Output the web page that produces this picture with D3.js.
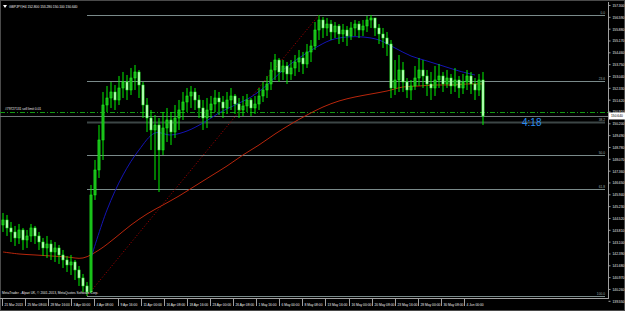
<!DOCTYPE html>
<html>
<head>
<meta charset="utf-8">
<script src="https://cdn.jsdelivr.net/npm/d3@7"></script>
<style>
  body { margin: 0; background: #000; overflow: hidden; }
  text { font-family: "Liberation Sans", Arial, sans-serif; }
</style>
</head>
<body>
<div id="chart"></div>
<script>
let w = 625;
let h = 311;

// GBPJPY H4 candles (bar 0 .. 120)
const firstOpen = 144.10;
const closes = [
  144.40, 143.92, 143.68, 143.32, 143.80, 143.20, 143.44, 143.92, 143.44, 143.08,
  142.72, 142.96, 142.48, 142.72, 142.30, 142.00, 141.70, 141.88, 141.40, 140.92,
  140.44, 140.08, 145.90, 147.40, 149.20, 151.30, 151.72, 152.08, 151.60, 152.32,
  152.68, 152.20, 152.92, 153.28, 152.50, 151.30, 150.52, 149.80, 150.10, 148.60,
  149.92, 150.40, 149.68, 150.52, 151.00, 151.48, 151.84, 152.08, 151.60, 151.12,
  150.52, 151.00, 151.36, 151.72, 151.48, 151.12, 151.60, 151.84, 151.36, 151.00,
  151.24, 151.60, 151.12, 151.36, 151.84, 152.20, 152.56, 153.40, 154.00, 153.28,
  153.64, 153.16, 153.52, 153.88, 154.12, 153.76, 154.48, 154.84, 155.80, 156.40,
  155.92, 156.16, 155.68, 156.04, 155.56, 155.80, 155.44, 155.92, 156.16, 155.80,
  156.04, 156.40, 156.52, 155.92, 155.56, 155.32, 154.96, 152.32, 152.80, 153.40,
  152.68, 152.20, 152.44, 152.92, 153.40, 153.04, 152.56, 152.32, 152.80, 153.04,
  152.56, 152.92, 152.44, 152.80, 152.32, 152.68, 153.04, 152.56, 152.20, 152.80,
  150.64
];
const highs = [
  144.82, 144.70, 144.28, 144.04, 144.16, 143.92, 143.80, 144.16, 144.04, 143.68,
  143.32, 143.44, 143.20, 143.08, 142.90, 142.60, 142.24, 142.30, 142.00, 141.64,
  141.16, 140.68, 146.50, 148.00, 150.10, 152.08, 152.44, 152.68, 152.50, 153.04,
  153.28, 153.10, 153.52, 153.70, 153.40, 152.68, 151.72, 151.00, 150.70, 150.52,
  150.88, 151.12, 150.88, 151.30, 151.60, 152.08, 152.32, 152.44, 152.32, 151.90,
  151.60, 151.72, 151.84, 152.20, 152.08, 151.84, 152.08, 152.32, 151.96, 151.72,
  151.84, 151.96, 151.72, 151.84, 152.32, 152.68, 153.04, 153.88, 154.36, 154.12,
  154.00, 153.88, 154.00, 154.30, 154.60, 154.48, 154.96, 155.20, 156.28, 156.70,
  156.58, 156.52, 156.40, 156.28, 156.16, 156.16, 156.04, 156.28, 156.40, 156.34,
  156.40, 156.64, 156.70, 156.52, 156.16, 155.92, 155.68, 155.20, 154.00, 154.30,
  153.88, 152.92, 152.80, 153.64, 154.12, 154.00, 153.40, 153.28, 153.64, 153.76,
  153.28, 153.40, 153.16, 153.52, 153.04, 153.16, 153.40, 153.28, 152.92, 153.16,
  153.28
];
const lows = [
  143.68, 143.44, 143.08, 142.84, 142.96, 142.60, 142.72, 143.08, 142.96, 142.60,
  142.24, 142.12, 142.00, 141.88, 141.76, 141.52, 141.28, 141.10, 140.80, 140.44,
  140.08, 139.84, 140.02, 145.60, 146.92, 148.00, 150.88, 151.12, 151.00, 151.30,
  151.72, 151.60, 151.90, 152.20, 151.72, 150.52, 149.68, 148.60, 146.80, 146.08,
  148.30, 149.08, 148.90, 149.32, 149.80, 150.40, 150.88, 151.12, 151.00, 150.52,
  149.80, 149.92, 150.52, 150.88, 150.70, 150.52, 150.76, 151.00, 150.76, 150.52,
  150.64, 150.88, 150.64, 150.76, 151.00, 151.48, 151.72, 152.20, 152.80, 152.68,
  152.80, 152.56, 152.80, 153.04, 153.28, 153.16, 153.52, 153.88, 154.60, 155.20,
  155.32, 155.44, 155.20, 155.32, 154.96, 155.08, 154.84, 155.20, 155.44, 155.32,
  155.44, 155.68, 155.92, 155.44, 154.96, 154.72, 154.24, 151.72, 151.90, 152.08,
  152.08, 151.72, 151.60, 152.20, 152.44, 152.32, 151.84, 151.60, 151.84, 152.32,
  152.08, 152.32, 151.96, 152.08, 151.72, 151.96, 152.20, 151.96, 151.60, 151.84,
  150.10
];

// moving averages, read every 4th bar
const blueStart = 22;
const blueMA = [142.12, 145.00, 147.10, 148.60, 149.62, 149.50, 149.74, 150.22, 150.82, 151.30,
  151.78, 152.50, 153.40, 154.12, 154.72, 155.20, 155.38, 155.38, 155.20, 154.72,
  154.24, 153.94, 153.64, 153.34, 153.10];
const redMA = [142.48, 142.36, 142.30, 142.24, 142.18, 142.12, 142.60, 143.32, 144.10, 144.76,
  145.30, 145.84, 146.44, 147.04, 147.64, 148.30, 148.90, 149.56, 150.16, 150.70,
  151.18, 151.54, 151.78, 151.96, 152.14, 152.38, 152.44, 152.50, 152.50, 152.56, 152.56];
const maStep = 4;

const priceLabels = ["157.300", "156.590", "155.880", "155.170", "154.460", "153.750", "153.040",
  "152.330", "151.620", "150.910", "150.200", "149.490", "148.780", "148.070", "147.360",
  "146.650", "145.940", "145.230", "144.520", "143.810", "143.100", "142.390", "141.680",
  "140.970", "140.260", "139.550"];
const timeLabels = ["21 Mar 2013", "25 Mar 08:00", "28 Mar 16:00", "3 Apr 00:00", "4 Apr 08:00",
  "9 Apr 16:00", "11 Apr 00:00", "16 Apr 08:00", "18 Apr 16:00", "23 Apr 00:00", "26 Apr 08:00",
  "1 May 16:00", "6 May 00:00", "8 May 08:00", "13 May 16:00", "16 May 00:00", "20 May 08:00",
  "23 May 16:00", "28 May 00:00", "30 May 08:00", "4 Jun 00:00"];
const fibLevels = [0, 23.6, 38.2, 50, 61.8, 100];
const fibLowBar = 21;
const fibHighBar = 79;
const sellLimit = 150.76;

let viz = d3.select("#chart").append("svg")
  .attr("width", w).attr("height", h)
  .style("background-color", "#000000");

let plotRight = 608;
let plotBottom = 298;
let fs = 4;        // tiny terminal font
let squeeze = 0.82;

// small text, squeezed sideways like the terminal font
function tiny(parent, px, py, str, fill, anchor) {
  return parent.append("text")
    .attr("transform", `translate(${px},${py}) scale(${squeeze},1)`)
    .attr("font-size", fs).attr("fill", fill)
    .attr("text-anchor", anchor || "start")
    .text(str);
}

let x = d3.scaleLinear().domain([0, closes.length - 1]).range([3, 483]);
let y = d3.scaleLinear().domain([157.3, 139.55]).range([5, 300.8]);

// window frame
viz.append("rect").attr("x", 0.5).attr("y", 0.5).attr("width", w - 1).attr("height", h - 1)
  .attr("fill", "none").attr("stroke", "#4a4a4a");

let plot = viz.append("g");

// bid line
let bid = closes[closes.length - 1];
plot.append("line").attr("x1", 0).attr("x2", plotRight)
  .attr("y1", Math.round(y(bid)) + 0.5).attr("y2", Math.round(y(bid)) + 0.5)
  .attr("stroke", "#6e7676").attr("stroke-width", 1);

// sell limit order line
plot.append("line").attr("x1", 0).attr("x2", plotRight)
  .attr("y1", Math.round(y(sellLimit)) - 1.5).attr("y2", Math.round(y(sellLimit)) - 1.5)
  .attr("stroke", "#129a12").attr("stroke-dasharray", "5,2,1,2");
tiny(plot, 5, y(sellLimit) - 4, "#79727131 sell limit 0.01", "#e8e8e8");

// fibonacci levels
let fLow = lows[fibLowBar], fHigh = highs[fibHighBar];
fibLevels.forEach(lv => {
  let py = Math.round(y(fHigh - (fHigh - fLow) * lv / 100)) + 0.5;
  plot.append("line").attr("x1", x(fibLowBar)).attr("x2", 605)
    .attr("y1", py).attr("y2", py)
    .attr("stroke", lv == 38.2 ? "#3c4646" : "#7a8a8a")
    .attr("stroke-width", lv == 38.2 ? 2 : 1);
  tiny(plot, 605, py - 1.5, lv.toFixed(1), "#9aaaaa", "end");
});
plot.append("line")
  .attr("x1", x(fibLowBar)).attr("y1", y(fLow))
  .attr("x2", x(fibHighBar)).attr("y2", y(fHigh))
  .attr("stroke", "#b00000").attr("stroke-dasharray", "1,2");

// moving averages
let lineMaker = d3.line().curve(d3.curveCatmullRom);
plot.append("path")
  .attr("d", lineMaker(redMA.map((v, i) => [x(i * maStep), y(v)])))
  .attr("fill", "none").attr("stroke", "#b8260c").attr("stroke-width", 1);
plot.append("path")
  .attr("d", lineMaker(blueMA.map((v, i) => [x(blueStart + i * maStep), y(v)])))
  .attr("fill", "none").attr("stroke", "#1414b4").attr("stroke-width", 1);

// candles
let bars = closes.map((c, i) => ({
  i: i,
  o: i == 0 ? firstOpen : closes[i - 1],
  c: c,
  hi: highs[i],
  lo: lows[i]
}));
let candleW = 2.2;
let candles = plot.selectAll(".candle").data(bars).enter().append("g").attr("class", "candle");
candles.append("line")
  .attr("x1", d => x(d.i)).attr("x2", d => x(d.i))
  .attr("y1", d => y(d.hi)).attr("y2", d => y(d.lo))
  .attr("stroke", "#00f000").attr("stroke-width", 1);
candles.append("rect")
  .attr("x", d => x(d.i) - candleW / 2)
  .attr("y", d => y(Math.max(d.o, d.c)))
  .attr("width", candleW)
  .attr("height", d => Math.max(1, Math.abs(y(d.o) - y(d.c))))
  .attr("fill", d => d.c >= d.o ? "#18b818" : "#c0ffc0")
  .attr("stroke", "#22ff22").attr("stroke-width", 0.5);

// countdown
viz.append("text").attr("x", 522).attr("y", 126)
  .attr("font-size", 10).attr("fill", "#2a8cf0")
  .text("4:18");

// header and copyright
viz.append("path").attr("d", "M3,5 L7,5 L5,8 Z").attr("fill", "#ffffff");
tiny(viz, 9, 8, "GBPJPY,H4  152.800 153.280 150.100 150.640", "#f0f0f0");
tiny(viz, 2, 294, "MetaTrader - Alpari UK, \u00a9 2001-2013, MetaQuotes Software Corp.", "#e8e8e8");

// price axis
let yAxis = d3.axisRight(y)
  .tickValues(priceLabels.map(Number))
  .tickFormat(d3.format(".3f"))
  .tickSize(2).tickPadding(0);
let ya = viz.append("g").attr("transform", `translate(${plotRight + 0.5},0)`).call(yAxis);
ya.select(".domain").attr("stroke", "#a0a0a0").attr("d", `M0,2V${plotBottom}`);
ya.selectAll(".tick line").attr("stroke", "#a0a0a0");
ya.selectAll(".tick text").attr("x", 0).attr("dy", null)
  .attr("transform", `translate(4,1.5) scale(${squeeze},1)`)
  .attr("font-size", fs).attr("fill", "#f0f0f0")
  .attr("font-family", "Liberation Sans, Arial, sans-serif");

// current price box
viz.append("rect").attr("x", plotRight + 1).attr("y", y(bid) - 3.5)
  .attr("width", 16).attr("height", 7).attr("fill", "#ffffff");
tiny(viz, plotRight + 3, y(bid) + 1.5, bid.toFixed(3), "#000000");

// time axis
viz.append("line").attr("x1", 0).attr("x2", plotRight + 1)
  .attr("y1", plotBottom + 0.5).attr("y2", plotBottom + 0.5)
  .attr("stroke", "#a0a0a0");
let tx = d3.scalePoint().domain(timeLabels).range([2, 464]);
let tticks = viz.selectAll(".tlabel").data(timeLabels).enter().append("g")
  .attr("class", "tlabel")
  .attr("transform", d => `translate(${Math.round(tx(d)) + 0.5},0)`);
tticks.append("line").attr("y1", plotBottom).attr("y2", plotBottom + 8)
  .attr("stroke", "#a0a0a0");
tticks.each(function(d) {
  tiny(d3.select(this), 2, 306, d, "#f0f0f0");
});
</script>
</body>
</html>
